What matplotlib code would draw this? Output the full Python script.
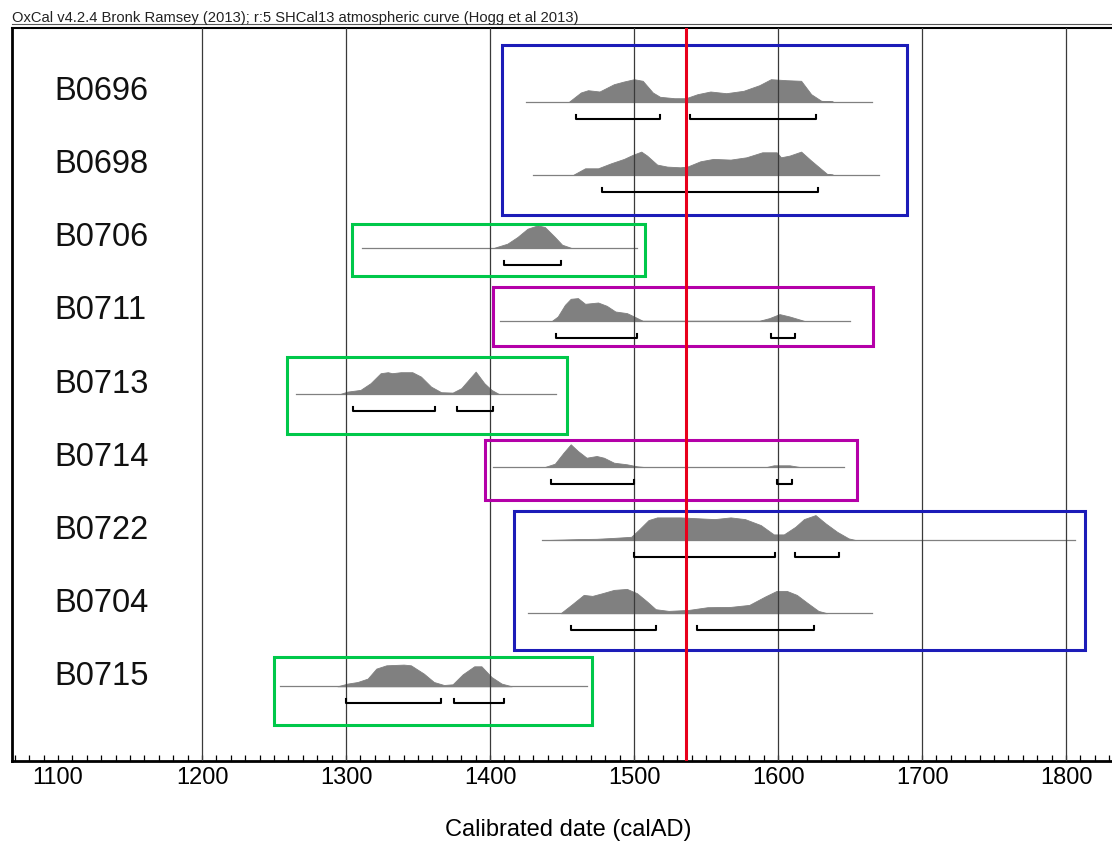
import numpy as np
import matplotlib.pyplot as plt
from matplotlib.lines import Line2D
from matplotlib.patches import Rectangle

plt.rcParams['font.family'] = ['Liberation Sans', 'DejaVu Sans']

names = ['B0696', 'B0698', 'B0706', 'B0711', 'B0713', 'B0714', 'B0722', 'B0704', 'B0715']

# start/end of the thin baseline of each likelihood (calAD)
line_start = [1425, 1430, 1311, 1407, 1265, 1402, 1436, 1426, 1254]
line_end = [1665, 1670, 1502, 1650, 1446, 1646, 1806, 1665, 1467]

# probability density (relative units)
dens_years = [
    [1455, 1463, 1468, 1476, 1486, 1493, 1500, 1506, 1513, 1518, 1528, 1536, 1544, 1553, 1564, 1576, 1587, 1595, 1606, 1616, 1623, 1630, 1638],
    [1458, 1466, 1475, 1484, 1493, 1499, 1505, 1509, 1516, 1523, 1532, 1537, 1546, 1555, 1567, 1578, 1589, 1599, 1602, 1608, 1616, 1623, 1634, 1638],
    [1403, 1412, 1419, 1426, 1433, 1438, 1445, 1450, 1456],
    [1443, 1447, 1452, 1456, 1461, 1466, 1475, 1481, 1487, 1495, 1500, 1506, 1587, 1594, 1601, 1608, 1618],
    [1296, 1301, 1310, 1317, 1324, 1329, 1332, 1338, 1346, 1352, 1359, 1366, 1374, 1380, 1390, 1396, 1401, 1406],
    [1438, 1445, 1451, 1456, 1461, 1467, 1474, 1479, 1486, 1495, 1502, 1507, 1592, 1597, 1608, 1615],
    [1437, 1461, 1474, 1487, 1498, 1503, 1510, 1516, 1532, 1546, 1556, 1567, 1577, 1588, 1597, 1604, 1612, 1618, 1626, 1633, 1641, 1649, 1654],
    [1449, 1457, 1465, 1471, 1478, 1486, 1495, 1502, 1509, 1515, 1524, 1538, 1551, 1567, 1580, 1591, 1599, 1606, 1613, 1620, 1628, 1634],
    [1294, 1301, 1308, 1315, 1321, 1328, 1340, 1345, 1354, 1361, 1368, 1374, 1381, 1389, 1394, 1401, 1408, 1415],
]
dens_vals = [
    [0, 9, 11.3, 10, 17.3, 20, 22.3, 20.7, 9, 4.7, 3.3, 3.3, 7.3, 10, 8.3, 10.7, 16.3, 22.3, 21.3, 20.7, 7.3, 0.7, 0],
    [0, 6.3, 6.3, 11.3, 15.7, 19.7, 23, 19, 10, 8, 7.3, 8, 13.3, 15.7, 15, 17.3, 22.3, 22.3, 17.3, 19, 23, 14, 0.7, 0],
    [0, 4, 10.7, 19, 22.3, 20.7, 10.7, 3, 0],
    [0, 4.3, 16, 22, 22.7, 17, 18.3, 15, 9.3, 7.7, 4.3, 0, 0, 2.7, 6.7, 4.3, 0],
    [0, 2.3, 4, 10.7, 20.7, 21.7, 20.7, 21.7, 21.7, 17.3, 7.3, 1.7, 1.3, 5.7, 22.3, 10.7, 4, 0],
    [0, 3.3, 14.3, 22.7, 16, 9.3, 11, 9.3, 4.3, 2.7, 0.7, 0, 0, 1.7, 1.7, 0],
    [0, 1, 1.3, 2.3, 3.3, 10, 20, 22.7, 22.7, 21.7, 21, 22.7, 21, 15, 5.7, 5.7, 13.3, 21, 25, 16.7, 8.3, 1.7, 0],
    [0, 9, 18.3, 17.3, 20, 23.3, 24.3, 20, 11.7, 4, 2.3, 3.3, 6, 6.3, 8.3, 16.7, 22.3, 22.3, 18.3, 10.7, 2.3, 0],
    [0, 2.7, 4.3, 7.7, 17.7, 21, 21.7, 21, 12.7, 4.3, 1.3, 2, 12, 20, 20, 9.3, 2.7, 0],
]

# 95.4% ranges
ranges = [
    [(1460, 1518), (1539, 1626)],
    [(1478, 1628)],
    [(1410, 1449)],
    [(1446, 1502), (1595, 1612)],
    [(1305, 1362), (1377, 1402)],
    [(1442, 1500), (1599, 1610)],
    [(1500, 1598), (1612, 1642)],
    [(1456, 1515), (1544, 1625)],
    [(1300, 1366), (1375, 1410)],
]

# grouping boxes: year from, year to, row from, row to
box_x0 = [1408.3, 1304.0, 1402.3, 1258.8, 1396.2, 1416.3, 1250.0]
box_x1 = [1689.6, 1507.6, 1666.2, 1453.3, 1654.6, 1813.0, 1471.0]
box_y0 = [-0.773, 1.680, 2.542, 3.491, 4.631, 5.602, 7.603]
box_y1 = [1.553, 2.383, 3.341, 4.549, 5.451, 7.503, 8.529]
box_col = ['#1c1cb8', '#00c84a', '#b400a8', '#00c84a', '#b400a8', '#1c1cb8', '#00c84a']

grid_years = [1200, 1300, 1400, 1500, 1600, 1700, 1800]
tick_years = [1100, 1200, 1300, 1400, 1500, 1600, 1700, 1800]
marker_year = 1536

W, H = 1112, 842
fig = plt.figure(figsize=(W / 100, H / 100), dpi=100)
ax_left, ax_top, ax_bot = 12, 28, 761
xmin, xmax = 1068, 1840
pxyr = 1.44
ax = fig.add_axes([ax_left / W, 1 - ax_bot / H, (xmax - xmin) * pxyr / W, (ax_bot - ax_top) / H])

rowpx = 73.1
hscale = 1.0 / rowpx
ax.set_xlim(xmin, xmax)
ax.set_ylim((ax_bot - 101.5) / rowpx, (ax_top - 101.5) / rowpx)

for g in grid_years:
    ax.axvline(g, color='#3a3a3a', lw=0.9, zorder=3)

for i in range(len(names)):
    ax.plot([line_start[i], line_end[i]], [i, i], color='#808080', lw=0.9, zorder=2)
    yv = i - np.array(dens_vals[i]) * hscale
    ax.fill_between(dens_years[i], i, yv, color='#808080', lw=0.6, zorder=2)
    for a, b in ranges[i]:
        yb = i + 17 * hscale
        ax.plot([a, a, b, b], [yb - 4 * hscale, yb, yb, yb - 4 * hscale], color='black', lw=1.5, zorder=4)
    ax.text(0.0378, i - 0.135, names[i], transform=ax.get_yaxis_transform(), fontsize=23.5,
            ha='left', va='center', color='#111111')

for k in range(len(box_x0)):
    ax.add_patch(Rectangle((box_x0[k], box_y0[k]), box_x1[k] - box_x0[k], box_y1[k] - box_y0[k],
                           fill=False, ec=box_col[k], lw=2.2, zorder=5))

ax.axvline(marker_year, color='#e8001c', lw=2.2, zorder=6)

ax.set_xticks(tick_years)
ax.set_xticks(np.arange(1070, 1840, 10), minor=True)
ax.set_yticks([])
ax.tick_params(axis='x', which='both', direction='in', length=4.5, width=0.9, pad=4.5, labelsize=17)
for s in ['left', 'bottom']:
    ax.spines[s].set_linewidth(2)
ax.spines['top'].set_linewidth(1.5)
ax.set_xlabel('Calibrated date (calAD)', fontsize=17, labelpad=21.5)

fig.text(12 / W, 1 - 22 / H, 'OxCal v4.2.4 Bronk Ramsey (2013); r:5 SHCal13 atmospheric curve (Hogg et al 2013)',
         fontsize=10.6, ha='left', va='baseline', color='#222222')
fig.add_artist(Line2D([12 / W, 1], [1 - 24 / H, 1 - 24 / H], transform=fig.transFigure, color='#555555', lw=0.8))

fig.savefig('out.png', dpi=100)
